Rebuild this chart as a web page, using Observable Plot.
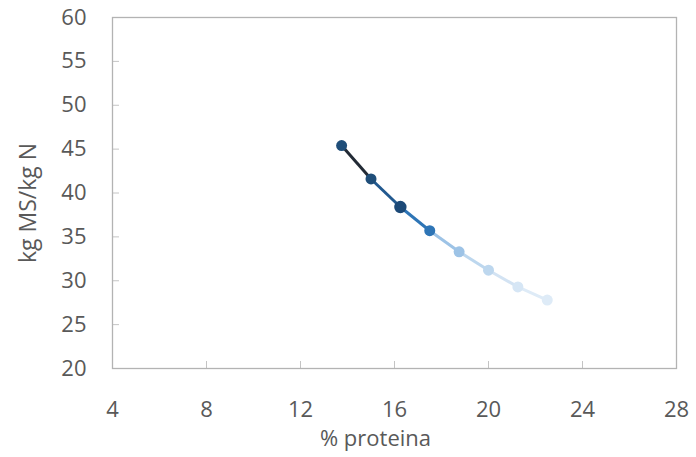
<!DOCTYPE html>
<html>
<head>
<meta charset="utf-8">
<script src="https://cdn.jsdelivr.net/npm/d3@7"></script>
<script src="https://cdn.jsdelivr.net/npm/@observablehq/plot@0.6"></script>
<style>
  html, body { margin: 0; padding: 0; background: #fff; }
  #chart svg { display: block; }
</style>
</head>
<body>
<div id="chart"></div>
<script>
// Data
const proteina = [13.75, 15.0, 16.25, 17.5, 18.75, 20.0, 21.25, 22.5];
const kgMSperN = [45.4, 41.6, 38.4, 35.7, 33.3, 31.2, 29.3, 27.8];
const pointColors = ["#1f4e79", "#1f4e79", "#1c4977", "#2e75b6", "#9dc3e6", "#bdd7ee", "#d6e6f5", "#deebf7"];
const segmentColors = ["#222a35", "#22598f", "#2e75b6", "#9dc3e6", "#bdd7ee", "#d3e3f3", "#deebf7"];
const pointSizes = [5.5, 5.5, 6.2, 5.5, 5.5, 5.5, 5.5, 5.5];
const xTicks = [4, 8, 12, 16, 20, 24, 28];
const yTicks = [20, 25, 30, 35, 40, 45, 50, 55, 60];
const xTitle = "% proteina";
const yTitle = "kg MS/kg N";

const points = proteina.map((x, i) => ({x, y: kgMSperN[i], color: pointColors[i], r: pointSizes[i]}));
const segments = points.slice(1).map((p, i) => ({x1: points[i].x, y1: points[i].y, x2: p.x, y2: p.y, color: segmentColors[i]}));

const textColor = "#595959";
const font = "'Open Sans', sans-serif";

const chart = Plot.plot({
  width: 696,
  height: 457,
  marginLeft: 112,
  marginRight: 20,
  marginTop: 17,
  marginBottom: 89,
  style: {fontFamily: font, fontSize: "22px", color: textColor, background: "#fff"},
  x: {domain: [4, 28], ticks: xTicks},
  y: {domain: [20, 60], ticks: yTicks},
  r: {type: "identity"},
  marks: [
    // inward tick marks
    Plot.axisX(xTicks, {tickSize: -7, fill: "none", stroke: "#c4c4c4", label: null}),
    Plot.axisY(yTicks, {tickSize: -7, fill: "none", stroke: "#c4c4c4", label: null}),
    // tick labels
    Plot.axisX(xTicks, {tickSize: 0, tickPadding: 33, fill: textColor, fontSize: 22, label: null}),
    Plot.axisY(yTicks, {tickSize: 0, tickPadding: 26, fill: textColor, fontSize: 22, label: null}),
    Plot.frame({stroke: "#b3b3b3", strokeWidth: 1.3}),
    // axis titles
    Plot.text([xTitle], {frameAnchor: "bottom", dy: 62, dx: -19, lineAnchor: "top", textAnchor: "middle", fill: textColor, fontSize: 22}),
    Plot.text([yTitle], {frameAnchor: "left", rotate: -90, dx: -84, dy: 10, textAnchor: "middle", fill: textColor, fontSize: 23}),
    // line segments with gradient colours
    Plot.link(segments, {x1: "x1", y1: "y1", x2: "x2", y2: "y2", stroke: d => d.color, strokeWidth: 3}),
    Plot.dot(points, {x: "x", y: "y", r: "r", fill: d => d.color, stroke: "none"})
  ]
});
document.getElementById("chart").appendChild(chart);
</script>
</body>
</html>
